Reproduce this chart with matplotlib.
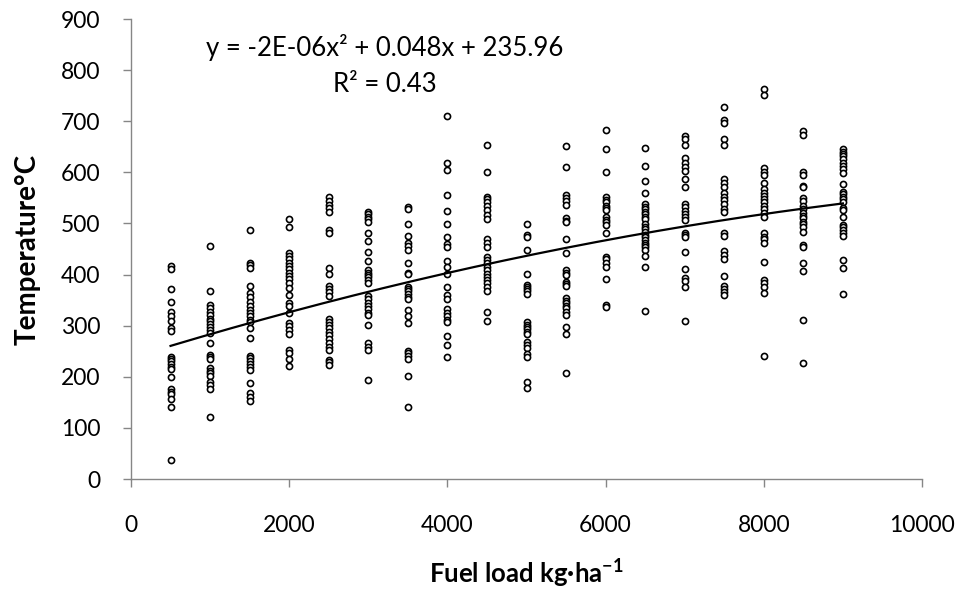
import numpy as np
import matplotlib
matplotlib.use("Agg")
import matplotlib.pyplot as plt

plt.rcParams['font.family'] = ['Lato', 'DejaVu Sans']
plt.rcParams['mathtext.fontset'] = 'custom'
plt.rcParams['mathtext.rm'] = 'Lato'
plt.rcParams['mathtext.bf'] = 'Lato:bold'

# Fuel loads (kg/ha) and measured temperatures (°C) for each load
fuel_loads = [500, 1000, 1500, 2000, 2500, 3000, 3500, 4000, 4500,
              5000, 5500, 6000, 6500, 7000, 7500, 8000, 8500, 9000]

t500 = [417, 410, 371, 347, 327, 318, 310, 295, 290, 239, 235, 230, 225, 220, 215, 200, 176, 171, 166, 156, 140, 37]
t1000 = [455, 368, 340, 334, 327, 321, 314, 309, 303, 297, 292, 286, 267, 243, 239, 235, 217, 212, 207, 202, 190, 184, 176, 122]
t1500 = [488, 423, 419, 412, 378, 363, 357, 347, 339, 331, 324, 318, 312, 308, 296, 275, 241, 236, 231, 225, 220, 213, 188, 168, 161, 153]
t2000 = [508, 493, 443, 436, 430, 423, 417, 410, 404, 397, 391, 384, 373, 360, 344, 339, 324, 306, 299, 292, 284, 252, 246, 234, 221]
t2500 = [552, 543, 536, 530, 523, 487, 482, 412, 401, 378, 371, 365, 358, 314, 308, 301, 295, 288, 282, 273, 266, 259, 252, 233, 228, 223]
t3000 = [523, 519, 513, 508, 503, 482, 466, 445, 427, 409, 404, 399, 395, 389, 384, 358, 352, 345, 339, 332, 325, 321, 301, 266, 259, 252, 194]
t3500 = [533, 528, 499, 475, 461, 455, 448, 423, 404, 401, 376, 371, 367, 362, 357, 352, 331, 318, 305, 251, 246, 241, 235, 202, 140]
t4000 = [711, 618, 605, 556, 524, 499, 474, 460, 453, 427, 414, 401, 375, 360, 352, 332, 325, 319, 312, 308, 280, 262, 239]
t4500 = [654, 601, 552, 547, 541, 534, 526, 517, 508, 469, 462, 453, 434, 428, 422, 415, 409, 402, 396, 389, 383, 376, 368, 327, 310]
t5000 = [499, 477, 473, 448, 402, 380, 376, 371, 367, 362, 308, 301, 297, 293, 288, 284, 269, 262, 256, 245, 238, 190, 178]
t5500 = [652, 610, 556, 549, 543, 536, 510, 505, 502, 469, 443, 409, 404, 399, 386, 382, 378, 354, 349, 344, 339, 334, 327, 321, 297, 284, 208]
t6000 = [682, 645, 601, 552, 546, 541, 534, 530, 526, 512, 507, 502, 497, 481, 435, 430, 423, 414, 391, 340, 337]
t6500 = [647, 612, 584, 560, 538, 533, 528, 523, 519, 513, 508, 499, 494, 489, 484, 477, 473, 468, 462, 458, 453, 448, 436, 415, 329]
t7000 = [671, 665, 654, 629, 619, 611, 603, 586, 572, 538, 532, 525, 519, 512, 507, 482, 477, 473, 445, 410, 393, 388, 376, 310]
t7500 = [727, 703, 697, 665, 654, 586, 580, 571, 560, 552, 546, 538, 528, 523, 481, 475, 447, 438, 430, 397, 378, 371, 365, 360]
t8000 = [764, 751, 608, 601, 595, 580, 567, 560, 554, 547, 541, 534, 528, 520, 513, 481, 474, 469, 461, 425, 389, 383, 376, 363, 241]
t8500 = [680, 673, 601, 595, 573, 572, 549, 543, 534, 528, 521, 515, 510, 503, 499, 493, 484, 458, 453, 422, 406, 311, 226]
t9000 = [645, 640, 636, 631, 626, 619, 612, 606, 599, 577, 562, 558, 552, 547, 541, 530, 526, 513, 497, 493, 487, 482, 475, 429, 412, 362]

temps = [t500, t1000, t1500, t2000, t2500, t3000, t3500, t4000, t4500,
         t5000, t5500, t6000, t6500, t7000, t7500, t8000, t8500, t9000]

x_ticks = [0, 2000, 4000, 6000, 8000, 10000]
y_ticks = [0, 100, 200, 300, 400, 500, 600, 700, 800, 900]
equation_text = "y = -2E-06x² + 0.048x + 235.96"
r2_text = "R² = 0.43"

xs = np.concatenate([np.full(len(t), fl) for fl, t in zip(fuel_loads, temps)])
ys = np.concatenate([np.asarray(t, float) for t in temps])

fig = plt.figure(figsize=(9.61, 5.98), dpi=100)
ax = fig.add_axes([131 / 961, 1 - 479 / 598, 791 / 961, 460 / 598])

ax.plot(xs, ys, linestyle='none', marker='o', markersize=4.4,
        markerfacecolor='white', markeredgecolor='black', markeredgewidth=1.2)

coef = np.polyfit(xs, ys, 2)
xf = np.linspace(min(fuel_loads), max(fuel_loads), 200)
ax.plot(xf, np.polyval(coef, xf), color='black', linewidth=1.6)

ax.set_xlim(0, 10000)
ax.set_ylim(0, 900)
ax.set_xticks(x_ticks)
ax.set_yticks(y_ticks)
ax.set_xticklabels([str(v) for v in x_ticks])
ax.set_yticklabels([str(v) for v in y_ticks])

for s in ['top', 'right']:
    ax.spines[s].set_visible(False)
for s in ['left', 'bottom']:
    ax.spines[s].set_color('#868686')
    ax.spines[s].set_linewidth(1.0)

ax.tick_params(axis='both', direction='out', length=6, width=1.0,
               color='#868686', labelsize=16.5, labelcolor='black')
ax.tick_params(axis='x', pad=20)
ax.tick_params(axis='y', pad=16)

ax.set_xlabel(r"Fuel load kg·ha$^{\mathbf{-1}}$", fontsize=18.5, fontweight='bold')
ax.xaxis.set_label_coords(0.5, -0.170)
ax.set_ylabel("Temperature°C", fontsize=20, fontweight='bold')
ax.yaxis.set_label_coords(-0.114, 0.498)

ax.text(3211, 845, equation_text, ha='center', va='center', fontsize=18.5)
ax.text(3211, 771, r2_text, ha='center', va='center', fontsize=18.5)

fig.savefig("out.png", dpi=100)
